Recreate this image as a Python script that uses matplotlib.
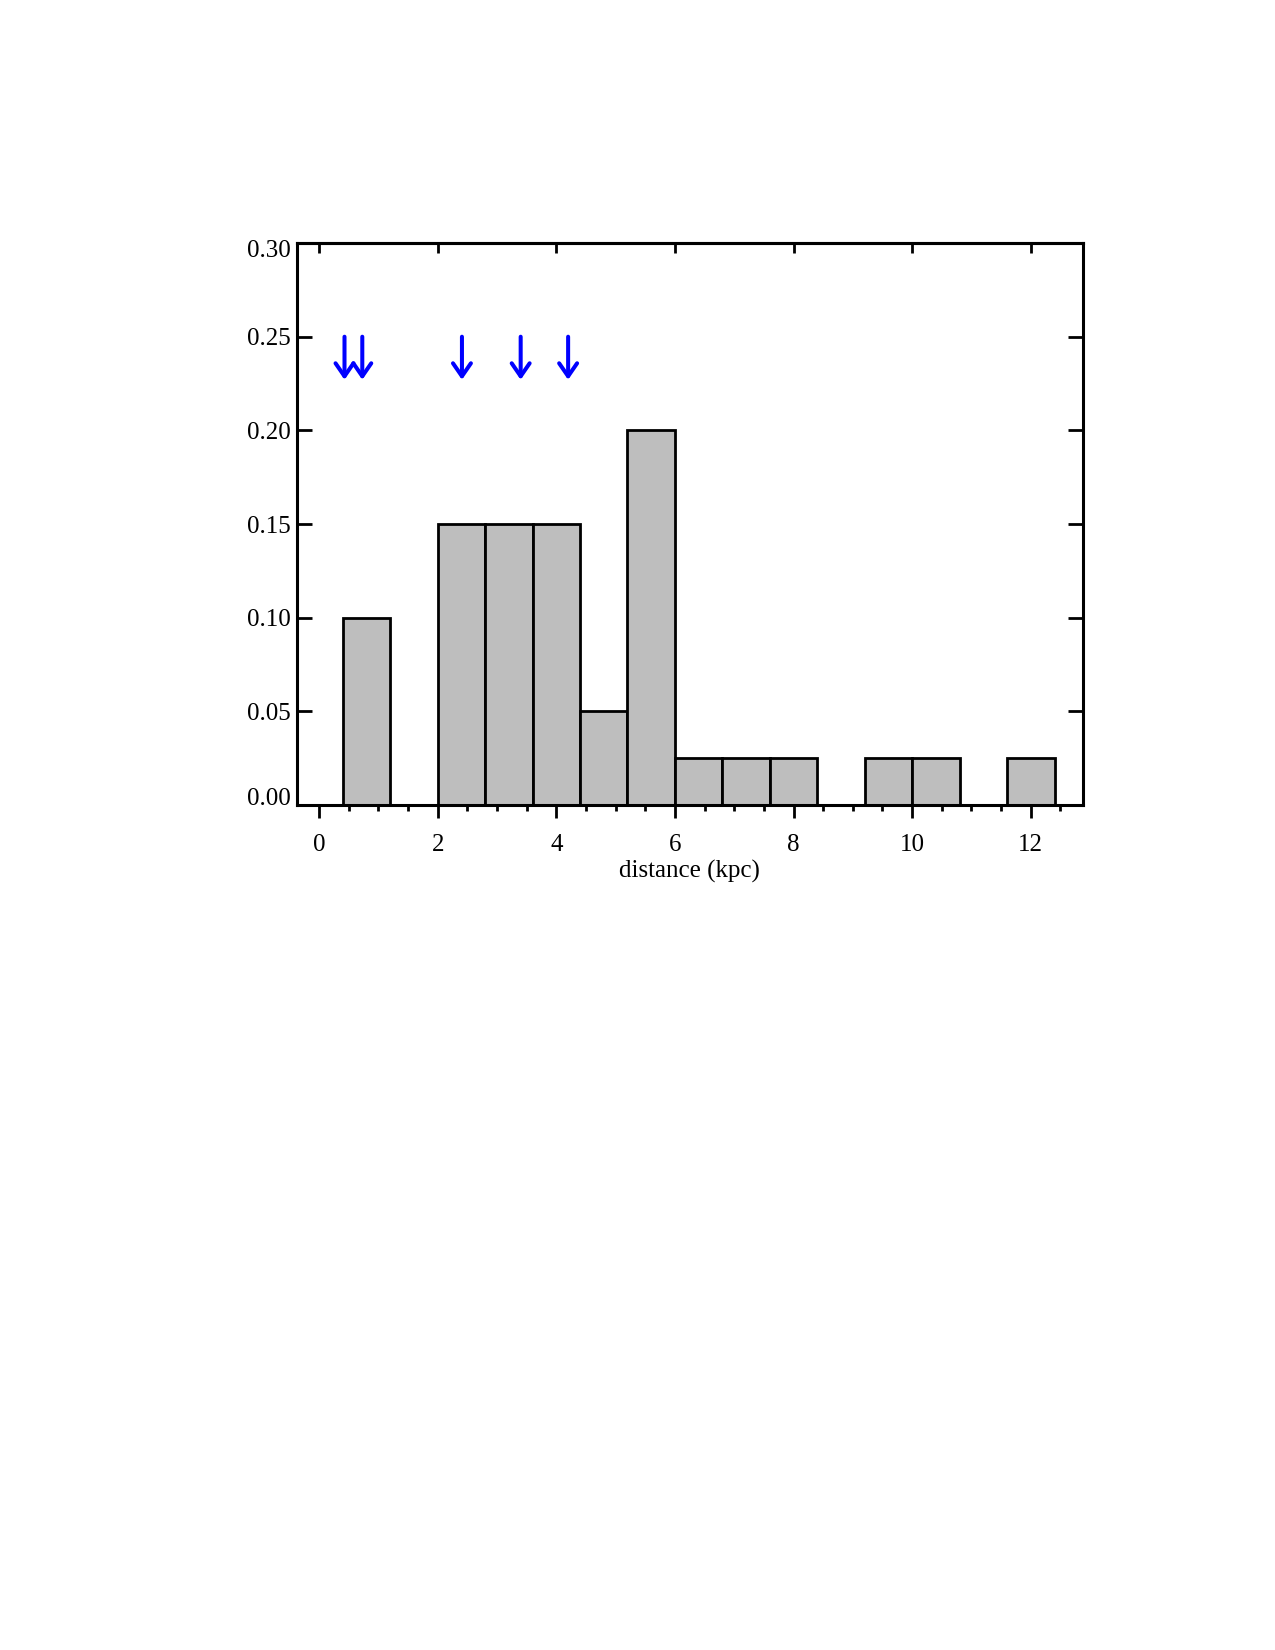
"""
Distance histogram (fraction per 0.8 kpc bin) with arrows marking
individual objects.
"""

import numpy as np
import matplotlib.pyplot as plt
from matplotlib.ticker import MultipleLocator
from matplotlib.transforms import ScaledTranslation

# bin edges (kpc) and fraction in each bin
bin_edges = [0.4, 1.2, 2.0, 2.8, 3.6, 4.4, 5.2, 6.0, 6.8, 7.6, 8.4,
             9.2, 10.0, 10.8, 11.6, 12.4]
fractions = [0.10, 0.0, 0.15, 0.15, 0.15, 0.05, 0.20, 0.025, 0.025,
             0.025, 0.0, 0.025, 0.025, 0.0, 0.025]

# distances marked by arrows
arrow_x = [0.43, 0.73, 2.41, 3.40, 4.20]
arrow_top = 0.25
arrow_tip = 0.227

xticks = [0, 2, 4, 6, 8, 10, 12]
yticks = [0.00, 0.05, 0.10, 0.15, 0.20, 0.25, 0.30]


def main():
    plt.rcParams["font.family"] = ["Liberation Serif", "DejaVu Serif"]

    fig = plt.figure(figsize=(12.75, 16.5), dpi=100)
    ax = fig.add_axes([0.2327, 0.5121, 0.6167, 0.3406])

    edges = np.array(bin_edges)
    widths = np.diff(edges)
    heights = np.array(fractions)
    show = heights > 0
    ax.bar(edges[:-1][show], heights[show], width=widths[show], align="edge",
           color="#bebebe", edgecolor="black", linewidth=2.0, zorder=2)

    # arrows
    for x in arrow_x:
        ax.annotate("", xy=(x, arrow_tip), xytext=(x, arrow_top),
                    arrowprops=dict(arrowstyle="->,head_length=0.55,head_width=0.38",
                                    color="#0000ff", lw=2.9, mutation_scale=17,
                                    shrinkA=0, shrinkB=0))

    ax.set_xlim(-0.376, 12.88)
    ax.set_ylim(0, 0.30)

    ax.set_xticks(xticks)
    ax.set_xticklabels([str(t) for t in xticks])
    ax.xaxis.set_minor_locator(MultipleLocator(0.5))
    ax.set_yticks(yticks)
    ax.set_yticklabels([f"{t:.2f}" for t in yticks])

    ax.tick_params(axis="x", which="major", direction="out", length=9.5,
                   width=2.0, labelsize=18, pad=11)
    ax.tick_params(axis="x", which="minor", direction="out", length=4.5,
                   width=2.0)
    ax.tick_params(axis="y", which="major", direction="in", length=10.8,
                   width=2.0, left=True, right=True, labelsize=18, pad=4)

    # end labels sit inside the axis range, as in the original
    labels = ax.get_yticklabels()
    labels[0].set_transform(labels[0].get_transform()
                            + ScaledTranslation(0, 6 / 72, fig.dpi_scale_trans))
    labels[-1].set_transform(labels[-1].get_transform()
                             + ScaledTranslation(0, -4 / 72, fig.dpi_scale_trans))

    # top axis: major ticks only, pointing in
    top = ax.secondary_xaxis("top")
    top.set_xticks(xticks)
    top.tick_params(axis="x", direction="in", length=7, width=2.0,
                    labeltop=False)
    top.spines["top"].set_linewidth(2.2)

    for s in ax.spines.values():
        s.set_linewidth(2.2)

    ax.set_xlabel("distance (kpc)", fontsize=18, labelpad=3)

    fig.savefig("out.png", dpi=100)
    plt.close(fig)


if __name__ == "__main__":
    main()
